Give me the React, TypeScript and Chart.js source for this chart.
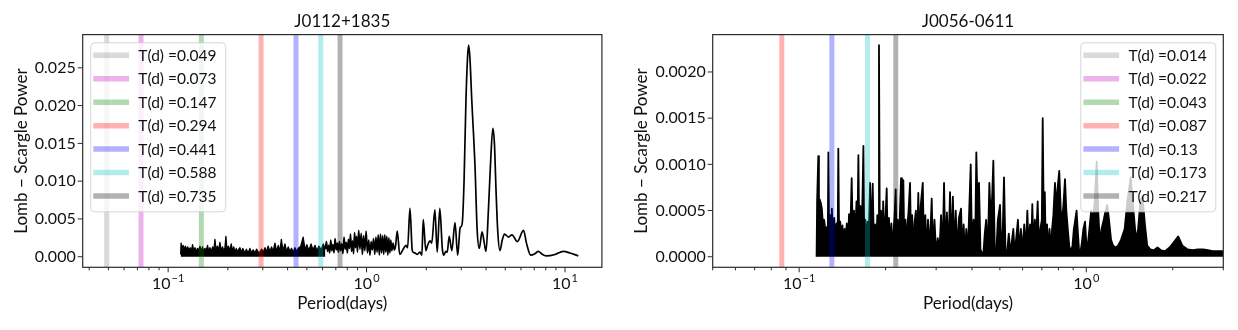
import React, { useEffect, useRef } from "react";
import { Chart, registerables } from "chart.js";

Chart.register(...registerables);

const FONT = "Lato, 'DejaVu Sans', sans-serif";
const W = 619;
const H = 330;

// ---------- J0112+1835 (left panel) ----------
const leftTitle = "J0112+1835";
const leftVlinePeriods = [0.049, 0.073, 0.147, 0.294, 0.441, 0.588, 0.735];
const leftVlineLabels = ["T(d) =0.049", "T(d) =0.073", "T(d) =0.147", "T(d) =0.294", "T(d) =0.441", "T(d) =0.588", "T(d) =0.735"];
const leftYTicks = [0, 0.005, 0.01, 0.015, 0.02, 0.025];
const leftDecades = [0.1, 1, 10];

// dense short-period noise (drawn filled down to zero power)
const leftNoisePeriod = [
  0.1156, 0.1162, 0.1175, 0.119, 0.1205, 0.122, 0.1238, 0.1255, 0.1272, 0.129,
  0.131, 0.1328, 0.1345, 0.1365, 0.1385, 0.1405, 0.1425, 0.1446, 0.147, 0.149,
  0.151, 0.1532, 0.1555, 0.158, 0.16, 0.1624, 0.165, 0.1675, 0.17, 0.1721,
  0.1745, 0.177, 0.1795, 0.1824, 0.185, 0.188, 0.1905, 0.1933, 0.1955, 0.198,
  0.201, 0.2049, 0.208, 0.211, 0.214, 0.2171, 0.2205, 0.224, 0.227, 0.2301,
  0.234, 0.238, 0.2438, 0.248, 0.2525, 0.2584, 0.263, 0.268, 0.2739, 0.279,
  0.2845, 0.2902, 0.296, 0.302, 0.3076, 0.313, 0.319, 0.3259, 0.332, 0.338,
  0.3454, 0.352, 0.359, 0.366, 0.372, 0.379, 0.3879, 0.395, 0.403, 0.4111,
  0.419, 0.427, 0.4356, 0.444, 0.452, 0.466, 0.479, 0.49, 0.5, 0.512,
  0.525, 0.537, 0.55, 0.562, 0.575, 0.59, 0.605, 0.62,
];
const leftNoisePower = [
  0.0003, 0.0018, 0.0011, 0.0015, 0.0009, 0.0014, 0.001, 0.0013, 0.0008, 0.0012,
  0.0008, 0.0016, 0.0008, 0.0012, 0.0007, 0.0011, 0.0008, 0.0014, 0.0007, 0.0013,
  0.0007, 0.0011, 0.0008, 0.0015, 0.0007, 0.0012, 0.0007, 0.0013, 0.0008, 0.0023,
  0.0008, 0.0014, 0.0008, 0.0019, 0.0008, 0.0013, 0.0008, 0.0012, 0.0027, 0.0008,
  0.0014, 0.0009, 0.0017, 0.0007, 0.0013, 0.0006, 0.0011, 0.0006, 0.001, 0.0012,
  0.0006, 0.0011, 0.0005, 0.001, 0.0005, 0.0011, 0.0005, 0.0009, 0.0005, 0.001,
  0.0006, 0.0006, 0.001, 0.0006, 0.0012, 0.0006, 0.0014, 0.0007, 0.0013, 0.0007,
  0.0018, 0.0007, 0.0015, 0.0007, 0.0023, 0.0008, 0.0017, 0.0007, 0.0013, 0.0007,
  0.0011, 0.0006, 0.0012, 0.0007, 0.0011, 0.0014, 0.0026, 0.0009, 0.0016, 0.0008,
  0.0017, 0.0009, 0.0015, 0.0008, 0.0014, 0.0009, 0.0017, 0.001,
];

// longer periods (plain line)
const leftPeriod = [
  0.62, 0.628, 0.636, 0.644, 0.652, 0.66, 0.668, 0.676, 0.685, 0.694,
  0.703, 0.712, 0.721, 0.73, 0.74, 0.75, 0.76, 0.77, 0.78, 0.79,
  0.8, 0.81, 0.82, 0.83, 0.84, 0.85, 0.86, 0.87, 0.88, 0.89,
  0.9, 0.913, 0.926, 0.94, 0.953, 0.966, 0.98, 0.995, 1.01, 1.025,
  1.04, 1.055, 1.07, 1.085, 1.1, 1.115, 1.13, 1.145, 1.16, 1.175,
  1.19, 1.205, 1.22, 1.235, 1.25, 1.265, 1.28, 1.295, 1.31, 1.325,
  1.34, 1.36, 1.38, 1.4, 1.428, 1.47, 1.53, 1.58, 1.61, 1.655,
  1.7, 1.75, 1.8, 1.86, 1.9, 1.93, 1.99, 2.03, 2.09, 2.13,
  2.21, 2.27, 2.34, 2.41, 2.45, 2.51, 2.55, 2.61, 2.69, 2.79,
  2.88, 2.96, 3.0, 3.04, 3.1, 3.17, 3.23, 3.27, 3.32, 3.39,
  3.52, 3.61, 3.7, 3.82, 3.91, 4.0, 4.11, 4.21, 4.33, 4.41,
  4.49, 4.58, 4.7, 4.83, 4.96, 5.19, 5.41, 5.75, 6.18, 6.41,
  6.72, 7.06, 7.33, 7.72, 8.09, 8.91, 9.8, 10.6, 11.67,
];
const leftPower = [
  0.001, 0.002, 0.0007, 0.0015, 0.0005, 0.0022, 0.0008, 0.0016, 0.0005, 0.0024,
  0.0009, 0.0018, 0.0006, 0.002, 0.0008, 0.0017, 0.0004, 0.0026, 0.001, 0.0019,
  0.0005, 0.0023, 0.0011, 0.003, 0.0007, 0.0021, 0.0004, 0.0032, 0.0012, 0.0027,
  0.0006, 0.0035, 0.001, 0.0031, 0.0003, 0.0028, 0.0008, 0.0034, 0.0005, 0.0022,
  0.0002, 0.002, 0.0009, 0.0024, 0.0003, 0.0026, 0.0006, 0.0029, 0.0002, 0.003,
  0.0005, 0.0028, 0.0003, 0.0029, 0.0006, 0.0027, 0.0002, 0.0025, 0.0005, 0.0022,
  0.0008, 0.0018, 0.0009, 0.0014, 0.0034, 0.0003, 0.001, 0.0015, 0.0012, 0.0064,
  0.0008, 0.0005, 0.0003, 0.0006, 0.0002, 0.0049, 0.0008, 0.0015, 0.0021, 0.0018,
  0.0062, 0.0006, 0.0064, 0.001, 0.0002, 0.0007, 0.0006, 0.0027, 0.0008, 0.0045,
  0.0002, 0.0038, 0.004, 0.0046, 0.01, 0.0208, 0.0265, 0.028, 0.0262, 0.0208,
  0.012, 0.0035, 0.0011, 0.0033, 0.002, 0.0007, 0.006, 0.012, 0.017, 0.015,
  0.009, 0.0035, 0.0008, 0.0022, 0.003, 0.0026, 0.0029, 0.002, 0.0035, 0.0017,
  0.0002, 0.0004, 0.0007, 0.0003, 0.0001, 0.0003, 0.0007, 0.0005, 0.0001,
];

// ---------- J0056-0611 (right panel) ----------
const rightTitle = "J0056-0611";
const rightVlinePeriods = [0.014, 0.022, 0.043, 0.087, 0.13, 0.173, 0.217];
const rightVlineLabels = ["T(d) =0.014", "T(d) =0.022", "T(d) =0.043", "T(d) =0.087", "T(d) =0.13", "T(d) =0.173", "T(d) =0.217"];
const rightYTicks = [0, 0.0005, 0.001, 0.0015, 0.002];
const rightDecades = [0.1, 1];

const rightPeriod = [
  0.115, 0.1155, 0.1166, 0.1172, 0.118, 0.119, 0.12, 0.121, 0.1222, 0.1235,
  0.1248, 0.1258, 0.1264, 0.1272, 0.1282, 0.1292, 0.13, 0.1312, 0.1325, 0.1338,
  0.135, 0.1362, 0.1369, 0.1378, 0.139, 0.1402, 0.1415, 0.1428, 0.144, 0.1452,
  0.1465, 0.1478, 0.1492, 0.1505, 0.1524, 0.1538, 0.1552, 0.1568, 0.1584, 0.1595,
  0.1608, 0.162, 0.1634, 0.165, 0.1662, 0.1674, 0.1685, 0.17, 0.1715, 0.173,
  0.1745, 0.1766, 0.178, 0.1804, 0.182, 0.1838, 0.1855, 0.1872, 0.1885, 0.1897,
  0.191, 0.1928, 0.1945, 0.1962, 0.198, 0.2, 0.2018, 0.2035, 0.2055, 0.2075,
  0.2095, 0.2115, 0.2135, 0.215, 0.2169, 0.2185, 0.2205, 0.2225, 0.2245, 0.2264,
  0.228, 0.2306, 0.2325, 0.2345, 0.2365, 0.2385, 0.2405, 0.2433, 0.2455, 0.2475,
  0.25, 0.2525, 0.255, 0.2575, 0.26, 0.2625, 0.265, 0.2695, 0.272, 0.275,
  0.278, 0.281, 0.285, 0.2895, 0.2925, 0.296, 0.3, 0.304, 0.308, 0.312,
  0.316, 0.3196, 0.323, 0.327, 0.331, 0.3353, 0.339, 0.343, 0.347, 0.351,
  0.355, 0.36, 0.3663, 0.37, 0.374, 0.378, 0.382, 0.387, 0.392, 0.3958,
  0.4, 0.405, 0.41, 0.414, 0.418, 0.423, 0.428, 0.433, 0.438, 0.443,
  0.448, 0.454, 0.4596, 0.465, 0.47, 0.4746, 0.48, 0.486, 0.492, 0.5006,
  0.506, 0.512, 0.5169, 0.523, 0.53, 0.537, 0.545, 0.552, 0.557, 0.563,
  0.57, 0.578, 0.585, 0.592, 0.6, 0.608, 0.616, 0.6233, 0.63, 0.637,
  0.643, 0.6486, 0.655, 0.662, 0.668, 0.6771, 0.685, 0.692, 0.7, 0.705,
  0.711, 0.717, 0.723, 0.73, 0.738, 0.745, 0.753, 0.76, 0.768, 0.778,
  0.785, 0.792, 0.805, 0.815, 0.825, 0.834, 0.843, 0.852, 0.862, 0.872,
  0.883, 0.895, 0.905, 0.915, 0.925, 0.933, 0.943, 0.953, 0.965, 0.977,
  0.99, 1.0, 1.01, 1.025, 1.04, 1.055, 1.07, 1.087, 1.1, 1.115,
  1.13, 1.15, 1.168, 1.183, 1.2, 1.22, 1.24, 1.265, 1.29, 1.32,
  1.36, 1.39, 1.428, 1.46, 1.49, 1.515, 1.545, 1.57, 1.6, 1.63,
  1.67, 1.72, 1.77, 1.82, 1.88, 1.95, 2.02, 2.09, 2.16, 2.25,
  2.35, 2.45, 2.55, 2.65, 2.75, 2.85, 2.96, 3.0,
];
const rightPower = [
  0, 0.0006, 0.00109, 0.0004, 0.00062, 0.00058, 0.00052, 0.00035, 0.0004, 0.00028,
  0.00032, 0.0002, 0.00113, 0.00025, 0.00045, 0.0003, 0.00052, 0.00022, 0.00042, 0.00018,
  0.00036, 0.00022, 0.00117, 0.0002, 0.00038, 0.00018, 0.00034, 0.00015, 0.0003, 0.00018,
  0.00036, 0.00015, 0.00046, 0.0002, 0.00085, 0.0002, 0.0005, 0.00025, 0.0006, 0.0002,
  0.0011, 0.0002, 0.00055, 0.00025, 0.00065, 0.0012, 0.0002, 0.0004, 0.00012, 0.00038,
  0.00015, 0.0008, 0.0002, 0.00079, 0.00015, 0.00035, 0.00012, 0.00045, 0.0002, 0.00229,
  0.00015, 0.0005, 0.0001, 0.0006, 0.00015, 0.00045, 0.00074, 0.0001, 0.00042, 0.0001,
  0.00036, 0.00008, 0.0003, 0.00045, 0.00073, 0.0001, 0.0004, 0.00008, 0.0005, 0.00085,
  0.00015, 0.00083, 0.0001, 0.0004, 0.00008, 0.00035, 0.0005, 0.0008, 0.0001, 0.00045,
  0.00008, 0.00038, 0.0005, 0.0001, 0.00069, 0.0001, 0.00055, 0.0008, 0.0001, 0.00045,
  0.00005, 0.0004, 0.00008, 0.00063, 0.00005, 0.0004, 0.00004, 0.0002, 0.00005, 0.00045,
  0.00006, 0.0008, 0.00006, 0.00048, 0.00005, 0.0007, 0.00006, 0.00065, 0.00008, 0.0005,
  0.00005, 0.00042, 0.00052, 0.00004, 0.00035, 0.00003, 0.0003, 0.00005, 0.0006, 0.001,
  0.00005, 0.0004, 0.00006, 0.00113, 0.0006, 0.0008, 0.00008, 0.00004, 0.00003, 0.00025,
  0.0004, 0.00005, 0.0008, 0.0004, 0.00065, 0.00104, 0.00006, 0.00005, 0.0004, 0.00056,
  0.00006, 0.0003, 0.00086, 0.00008, 0.00004, 0.00025, 0.00003, 0.0002, 0.0003, 0.00004,
  0.0002, 0.0004, 0.00005, 0.0003, 0.00006, 0.00035, 0.00006, 0.0005, 0.00008, 0.00035,
  0.00008, 0.00057, 0.0001, 0.0004, 0.00015, 0.0006, 0.00006, 0.0003, 0.0004, 0.0015,
  0.0004, 0.0007, 0.00004, 0.00035, 0.00004, 0.0003, 0.00005, 0.0003, 0.00045, 0.0008,
  0.0005, 0.0007, 0.00093, 0.0005, 0.0004, 0.0006, 0.00084, 0.0005, 0.0003, 0.00012,
  0.00005, 0.00012, 0.0003, 0.0004, 0.0005, 0.0003, 0.00008, 0.00004, 0.00015, 0.0003,
  0.00038, 0.00015, 0.0001, 0.0003, 0.0005, 0.0004, 0.0006, 0.00103, 0.0005, 0.00015,
  0.0003, 0.0004, 0.0005, 0.00056, 0.0004, 0.00018, 0.00012, 0.0001, 0.00012, 0.00018,
  0.0003, 0.0006, 0.00086, 0.0005, 0.00018, 0.0003, 0.00062, 0.00065, 0.00035, 0.00012,
  0.00008, 0.00007, 0.0001, 0.00007, 0.00006, 0.0001, 0.00016, 0.00022, 0.00012, 0.00008,
  0.00007, 0.00008, 0.00008, 0.00007, 0.00006, 0.00006, 0.00006, 0.00006,
];

// matplotlib single-letter colours drawn with alpha 0.3
const VLINE_COLORS = [
  "rgba(128,128,128,0.3)",
  "rgba(191,0,191,0.3)",
  "rgba(0,128,0,0.3)",
  "rgba(255,0,0,0.3)",
  "rgba(0,0,255,0.3)",
  "rgba(0,191,191,0.3)",
  "rgba(0,0,0,0.3)",
];

type Series = { period: number[]; power: number[]; fill: boolean; width: number; smooth: boolean };
type PanelCfg = {
  title: string;
  xMin: number;
  xMax: number;
  yMin: number;
  yMax: number;
  yTicks: number[];
  yDecimals: number;
  decades: number[];
  area: { left: number; right: number; top: number; bottom: number };
  vlinePeriods: number[];
  vlineLabels: string[];
  series: Series[];
  legendSide: "left" | "right";
  yLabelX: number;
};

function logTicks(min: number, max: number) {
  const out: { v: number; major: boolean }[] = [];
  for (let e = Math.floor(Math.log10(min)); e <= Math.ceil(Math.log10(max)); e++) {
    for (let m = 1; m < 10; m++) {
      const v = m * Math.pow(10, e);
      if (v >= min && v <= max) out.push({ v, major: m === 1 });
    }
  }
  return out;
}

const decorPlugin = {
  id: "decor",
  afterDraw(chart: any, _args: any, cfg: PanelCfg) {
    const { ctx, chartArea: a } = chart;
    const xs = chart.scales.x;
    const ys = chart.scales.y;
    ctx.save();

    // legend (semi-transparent, over data)
    const entries = chart.data.datasets.filter((d: any) => d.isVline);
    const bw = 135;
    const bh = 169;
    const bx = cfg.legendSide === "left" ? a.left + 8 : a.right - 7.5 - bw;
    const by = a.top + 8.2;
    ctx.beginPath();
    if ((ctx as any).roundRect) (ctx as any).roundRect(bx, by, bw, bh, 4);
    else ctx.rect(bx, by, bw, bh);
    ctx.fillStyle = "rgba(255,255,255,0.8)";
    ctx.fill();
    ctx.strokeStyle = "rgba(204,204,204,0.8)";
    ctx.lineWidth = 1;
    ctx.stroke();
    entries.forEach((d: any, i: number) => {
      const cy = by + 12.5 + i * 23.45;
      ctx.strokeStyle = d.borderColor;
      ctx.lineWidth = 5.5;
      ctx.lineCap = "butt";
      ctx.beginPath();
      ctx.moveTo(bx + 2.6, cy);
      ctx.lineTo(bx + 38.3, cy);
      ctx.stroke();
      ctx.fillStyle = "#111";
      ctx.font = `15.5px ${FONT}`;
      ctx.textAlign = "left";
      ctx.textBaseline = "middle";
      ctx.fillText(d.label, bx + 47.6, cy + 0.5);
    });

    // frame
    ctx.strokeStyle = "#2b2b2b";
    ctx.lineWidth = 1.2;
    ctx.strokeRect(a.left, a.top, a.right - a.left, a.bottom - a.top);

    // tick marks
    ctx.lineWidth = 1;
    ctx.strokeStyle = "#2b2b2b";
    logTicks(cfg.xMin, cfg.xMax).forEach((t) => {
      const px = xs.getPixelForValue(t.v);
      ctx.beginPath();
      ctx.moveTo(px, a.bottom);
      ctx.lineTo(px, a.bottom + (t.major ? 5 : 3));
      ctx.stroke();
    });
    cfg.yTicks.forEach((v) => {
      const py = ys.getPixelForValue(v);
      ctx.beginPath();
      ctx.moveTo(a.left - 5, py);
      ctx.lineTo(a.left, py);
      ctx.stroke();
    });

    // decade labels 10^n
    ctx.fillStyle = "#111";
    ctx.textBaseline = "alphabetic";
    ctx.textAlign = "left";
    cfg.decades.forEach((d) => {
      const e = Math.round(Math.log10(d));
      const exp = e < 0 ? "\u2212" + -e : String(e);
      const px = xs.getPixelForValue(d);
      ctx.font = `16px ${FONT}`;
      const wb = ctx.measureText("10").width;
      ctx.font = `11px ${FONT}`;
      const we = ctx.measureText(exp).width;
      const x0 = px - (wb + we + 1) / 2;
      ctx.font = `16px ${FONT}`;
      ctx.fillText("10", x0, a.bottom + 22);
      ctx.font = `11px ${FONT}`;
      ctx.fillText(exp, x0 + wb + 1, a.bottom + 14.5);
    });

    // title and axis titles
    ctx.textAlign = "center";
    ctx.textBaseline = "middle";
    ctx.font = `17px ${FONT}`;
    ctx.fillText(cfg.title, (a.left + a.right) / 2, 21.7);
    ctx.fillText("Period(days)", (a.left + a.right) / 2, 304);
    ctx.save();
    ctx.translate(cfg.yLabelX, (a.top + a.bottom) / 2);
    ctx.rotate(-Math.PI / 2);
    ctx.fillText("Lomb \u2212 Scargle Power", 0, 0);
    ctx.restore();

    ctx.restore();
  },
};

function Panel({ cfg }: { cfg: PanelCfg }) {
  const ref = useRef<HTMLCanvasElement | null>(null);
  useEffect(() => {
    if (!ref.current) return;
    const datasets: any[] = [];
    cfg.vlinePeriods.forEach((T, i) => {
      datasets.push({
        label: cfg.vlineLabels[i],
        isVline: true,
        data: [
          { x: T, y: cfg.yMin },
          { x: T, y: cfg.yMax },
        ],
        borderColor: VLINE_COLORS[i],
        backgroundColor: VLINE_COLORS[i],
        borderWidth: 5,
        borderCapStyle: "butt",
        pointRadius: 0,
        fill: false,
        clip: 0,
        order: 0,
      });
    });
    cfg.series.forEach((s) => {
      datasets.push({
        label: "power",
        data: s.period.map((p, i) => ({ x: p, y: s.power[i] })),
        borderColor: "#000",
        backgroundColor: "#000",
        borderWidth: s.width,
        borderJoinStyle: "round",
        pointRadius: 0,
        fill: s.fill ? "origin" : false,
        cubicInterpolationMode: s.smooth ? "monotone" : "default",
        tension: 0,
        order: 1,
      });
    });

    const chart = new Chart(ref.current, {
      type: "line",
      data: { datasets },
      options: {
        responsive: false,
        animation: false,
        devicePixelRatio: 1,
        events: [],
        layout: { padding: { left: 0, top: cfg.area.top, right: W - cfg.area.right, bottom: 0 } },
        plugins: {
          legend: { display: false },
          tooltip: { enabled: false },
          title: { display: false },
          decor: cfg,
        } as any,
        scales: {
          x: {
            type: "logarithmic",
            min: cfg.xMin,
            max: cfg.xMax,
            grid: { display: false, drawTicks: false },
            border: { display: false },
            ticks: { display: false },
            afterBuildTicks: (s: any) => {
              s.ticks = cfg.decades.map((v) => ({ value: v }));
            },
            afterFit: (s: any) => {
              s.height = H - cfg.area.bottom;
            },
          },
          y: {
            type: "linear",
            min: cfg.yMin,
            max: cfg.yMax,
            grid: { display: false, drawTicks: false },
            border: { display: false },
            ticks: {
              color: "#111",
              font: { family: FONT, size: 16 },
              padding: 7,
              callback: (v: any) => Number(v).toFixed(cfg.yDecimals),
            },
            afterBuildTicks: (s: any) => {
              s.ticks = cfg.yTicks.map((v) => ({ value: v }));
            },
            afterFit: (s: any) => {
              s.width = cfg.area.left;
            },
          },
        } as any,
      },
      plugins: [decorPlugin as any],
    });
    return () => chart.destroy();
  }, [cfg]);
  return <canvas ref={ref} width={W} height={H} style={{ width: W, height: H, display: "block" }} />;
}

const leftCfg: PanelCfg = {
  title: leftTitle,
  xMin: 0.0371,
  xMax: 15.35,
  yMin: -0.0014,
  yMax: 0.0294,
  yTicks: leftYTicks,
  yDecimals: 3,
  decades: leftDecades,
  area: { left: 82.7, right: 601.9, top: 34.6, bottom: 267.3 },
  vlinePeriods: leftVlinePeriods,
  vlineLabels: leftVlineLabels,
  series: [
    { period: leftNoisePeriod, power: leftNoisePower, fill: true, width: 1.3, smooth: false },
    { period: leftPeriod, power: leftPower, fill: false, width: 1.7, smooth: true },
  ],
  legendSide: "left",
  yLabelX: 21.9,
};

const rightCfg: PanelCfg = {
  title: rightTitle,
  xMin: 0.05,
  xMax: 3.0,
  yMin: -0.0001145,
  yMax: 0.0024045,
  yTicks: rightYTicks,
  yDecimals: 4,
  decades: rightDecades,
  area: { left: 93.7, right: 604.3, top: 34.6, bottom: 267.3 },
  vlinePeriods: rightVlinePeriods,
  vlineLabels: rightVlineLabels,
  series: [{ period: rightPeriod, power: rightPower, fill: true, width: 1.8, smooth: false }],
  legendSide: "right",
  yLabelX: 23,
};

export default function App() {
  return (
    <div style={{ position: "absolute", left: 0, top: 0, width: 1238, height: 330, background: "#fff" }}>
      <div style={{ position: "absolute", left: 0, top: 0 }}>
        <Panel cfg={leftCfg} />
      </div>
      <div style={{ position: "absolute", left: W, top: 0 }}>
        <Panel cfg={rightCfg} />
      </div>
    </div>
  );
}
